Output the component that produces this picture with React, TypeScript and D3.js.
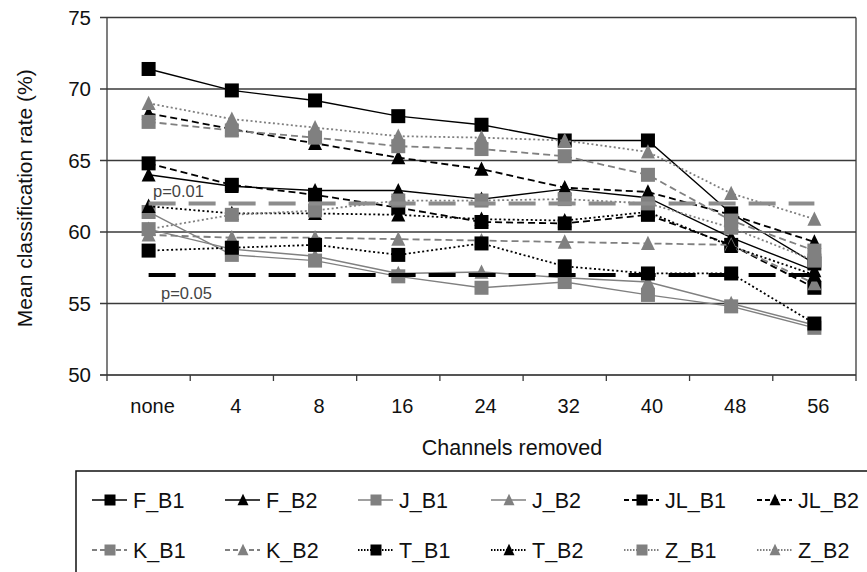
import React from "react";
import { scalePoint, scaleLinear, line } from "d3";

const W = 867;
const H = 572;
const margin = { top: 17.5, right: 11, bottom: 197, left: 107 };

const categories = ["none", "4", "8", "16", "24", "32", "40", "48", "56"];
const yTicks = [50, 55, 60, 65, 70, 75];

const F_B1 = [71.4, 69.9, 69.2, 68.1, 67.5, 66.4, 66.4, 61.3, 57.8];
const F_B2 = [64.0, 63.2, 62.9, 62.9, 62.3, 63.0, 62.4, 59.6, 57.3];
const J_B1 = [61.4, 58.4, 58.0, 56.9, 56.1, 56.5, 55.6, 54.8, 53.3];
const J_B2 = [60.2, 58.8, 58.3, 57.1, 57.2, 56.8, 56.5, 55.0, 53.5];
const JL_B1 = [64.8, 63.3, 62.6, 61.7, 60.7, 60.6, 61.2, 59.1, 56.1];
const JL_B2 = [68.3, 67.2, 66.2, 65.2, 64.4, 63.1, 62.8, 61.2, 59.3];
const K_B1 = [67.7, 67.1, 66.6, 66.0, 65.8, 65.3, 64.0, 60.8, 58.7];
const K_B2 = [59.8, 59.6, 59.6, 59.5, 59.4, 59.3, 59.2, 59.1, 56.4];
const T_B1 = [58.7, 58.9, 59.1, 58.4, 59.2, 57.6, 57.1, 57.1, 53.6];
const T_B2 = [61.8, 61.3, 61.3, 61.2, 60.9, 60.8, 61.4, 59.0, 57.0];
const Z_B1 = [60.2, 61.2, 61.5, 62.2, 62.2, 62.3, 62.0, 60.3, 58.0];
const Z_B2 = [69.0, 67.9, 67.3, 66.7, 66.6, 66.4, 65.6, 62.7, 60.9];

const seriesNames = ["F_B1", "F_B2", "J_B1", "J_B2", "JL_B1", "JL_B2", "K_B1", "K_B2", "T_B1", "T_B2", "Z_B1", "Z_B2"];
const seriesValues = [F_B1, F_B2, J_B1, J_B2, JL_B1, JL_B2, K_B1, K_B2, T_B1, T_B2, Z_B1, Z_B2];

// significance thresholds
const P01 = 62;
const P05 = 57;

const BLACK = "#000";
const GRAY = "#808080";
const FONT = "'Liberation Sans', Arial, sans-serif";

// style per series: colour, marker shape, line dash
function styleOf(name: string) {
  const person = name.split("_")[0];
  const isB2 = name.endsWith("B2");
  const dark = ["F", "JL", "T"].includes(person);
  let dash = "none";
  if (person === "JL" || person === "K") dash = "7 4";
  if (person === "T" || person === "Z") dash = "2 2.5";
  return {
    color: dark ? BLACK : GRAY,
    shape: isB2 ? "triangle" : "square",
    dash,
    width: dash === "none" ? 1.4 : 1.8,
  };
}

function Marker({ x, y, shape, size, color }: { x: number; y: number; shape: string; size: number; color: string }) {
  if (shape === "square") {
    return <rect x={x - size / 2} y={y - size / 2} width={size} height={size} fill={color} />;
  }
  const h = size * 0.95;
  return (
    <path
      d={`M${x},${y - h / 2 - 1} L${x + size / 2},${y + h / 2} L${x - size / 2},${y + h / 2} Z`}
      fill={color}
    />
  );
}

export default function App() {
  const xScale = scalePoint<string>()
    .domain(categories)
    .range([margin.left, W - margin.right])
    .padding(0.5);
  const yScale = scaleLinear().domain([50, 75]).range([H - margin.bottom, margin.top]);
  const step = xScale.step();
  const x0 = margin.left;
  const x1 = W - margin.right;
  const yBottom = yScale(50);

  const lineGen = line<number>()
    .x((_, i) => xScale(categories[i]) as number)
    .y((d) => yScale(d));

  const flat = (v: number) => categories.map(() => v);

  return (
    <svg width={W} height={H} style={{ position: "absolute", left: 0, top: 0, background: "#fff" }} fontFamily={FONT}>
      {/* gridlines */}
      {yTicks.map((t) => (
        <line key={t} x1={x0 - 7} x2={x1} y1={yScale(t)} y2={yScale(t)} stroke={t === 50 ? "#555" : "#3a3a3a"} strokeWidth={t === 50 ? 2 : 1.3} />
      ))}
      <line x1={x0} x2={x0} y1={yScale(75)} y2={yBottom} stroke="#3a3a3a" strokeWidth={1.3} />
      <line x1={x1} x2={x1} y1={yScale(75)} y2={yBottom} stroke="#3a3a3a" strokeWidth={1.3} />
      {/* x ticks between categories */}
      {categories.map((c, i) => (
        <line key={c} x1={x0 + step * (i + 1)} x2={x0 + step * (i + 1)} y1={yBottom} y2={yBottom + 6} stroke="#3a3a3a" strokeWidth={1.3} />
      ))}
      <line x1={x0} x2={x0} y1={yBottom} y2={yBottom + 6} stroke="#3a3a3a" strokeWidth={1.3} />

      {/* y tick labels */}
      {yTicks.map((t) => (
        <text key={t} x={91} y={yScale(t)} dy="0.36em" textAnchor="end" fontSize={20.5} fill="#111">
          {t}
        </text>
      ))}
      {/* x tick labels */}
      {categories.map((c) => (
        <text key={c} x={(xScale(c) as number) + 4} y={413} textAnchor="middle" fontSize={20} fill="#111">
          {c}
        </text>
      ))}
      <text x={512} y={455} textAnchor="middle" fontSize={21.5} fill="#111">
        Channels removed
      </text>
      <text transform={`translate(32, ${(yScale(75) + yBottom) / 2 + 2}) rotate(-90)`} textAnchor="middle" fontSize={21} fill="#111">
        Mean classification rate (%)
      </text>

      {/* series */}
      {seriesNames.map((name, k) => {
        const s = styleOf(name);
        return (
          <g key={name}>
            <path d={lineGen(seriesValues[k]) || ""} fill="none" stroke={s.color} strokeWidth={s.width} strokeDasharray={s.dash} />
            {seriesValues[k].map((v, i) => (
              <Marker key={i} x={xScale(categories[i]) as number} y={yScale(v)} shape={s.shape} size={14} color={s.color} />
            ))}
          </g>
        );
      })}

      {/* threshold lines */}
      <path d={lineGen(flat(P01)) || ""} fill="none" stroke="#8c8c8c" strokeWidth={4} strokeDasharray="27 13" />
      <path d={lineGen(flat(P05)) || ""} fill="none" stroke={BLACK} strokeWidth={4} strokeDasharray="27 13" />
      <text x={153} y={yScale(P01) - 6} fontSize={16.5} fill="#444">p=0.01</text>
      <text x={161} y={yScale(P05) + 24} fontSize={16.5} fill="#444">p=0.05</text>

      {/* legend */}
      <rect x={76} y={471} width={820} height={140} fill="none" stroke="#111" strokeWidth={1.5} />
      {seriesNames.map((name, k) => {
        const s = styleOf(name);
        const col = k % 6;
        const row = Math.floor(k / 6);
        const lx = 92 + col * 133;
        const ly = 500 + row * 50;
        return (
          <g key={name}>
            <line x1={lx} x2={lx + 35} y1={ly} y2={ly} stroke={s.color} strokeWidth={s.width} strokeDasharray={s.dash === "7 4" ? "5 3" : s.dash === "none" ? "none" : "1.5 1.5"} />
            <Marker x={lx + 18} y={ly} shape={s.shape} size={11} color={s.color} />
            <text x={lx + 41} y={ly} dy="0.36em" fontSize={21.5} fill="#111">
              {name}
            </text>
          </g>
        );
      })}
    </svg>
  );
}
